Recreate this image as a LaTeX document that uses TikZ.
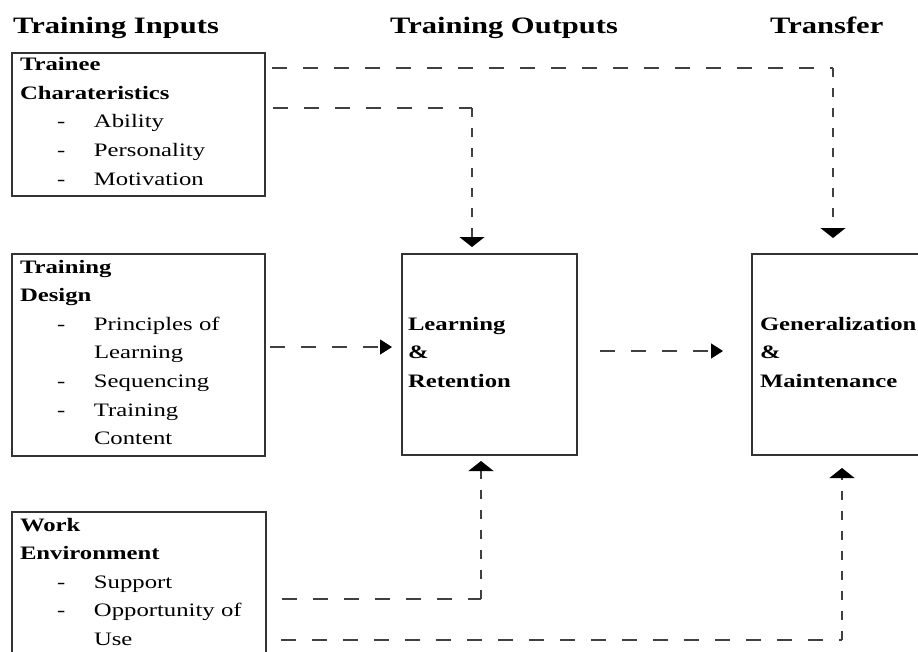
\documentclass[tikz,border=0pt]{standalone}
\usepackage{fontspec}
\setmainfont{Liberation Serif}[FakeStretch=1.3]
\usetikzlibrary{arrows.meta}
\setlength\parindent{0pt}
\newcommand\bodyf{\fontsize{19pt}{28.6pt}\selectfont}
\newcommand\hdrf{\bfseries\fontsize{23.5pt}{28pt}\selectfont}
\newcommand\dashitem[1]{\hspace*{37pt}\makebox[37pt][l]{-}#1}
\newcommand\contitem[1]{\hspace*{74pt}#1}
\begin{document}
\begin{tikzpicture}[x=1pt,y=-1pt,
  box/.style={draw=black!80, line width=1.5pt, outer sep=0pt, anchor=north west,
    inner xsep=8pt, inner ysep=0pt, align=left, font=\bodyf},
  hdr/.style={anchor=base west, inner sep=0pt, font=\hdrf},
  hd/.style={draw=black!75, line width=1.3pt, dash pattern=on 15pt off 16pt},
  vd/.style={draw=black!75, line width=1.3pt, dash pattern=on 9pt off 11pt},
  vtip/.style={-{Triangle[width=25pt,length=10pt,color=black]}},
  htip/.style={-{Triangle[width=15pt,length=12pt,color=black]}}]
\fill[white] (0,0) rectangle (918,651);
\clip (0,0) rectangle (918,651);

% headers
\node[hdr] (h1) at (13,33) {Training Inputs};
\node[hdr] (h2) at (390,33) {Training Outputs};
\node[hdr] (h3) at (770,33) {Transfer};

% boxes
\node[box, text width=237pt] (tc) at (12,53)
  {\rule{0pt}{17.7pt}\textbf{Trainee}\\
   \textbf{Charateristics}\\
   \dashitem{Ability}\\
   \dashitem{Personality}\\
   \dashitem{Motivation}\rule[-10.9pt]{0pt}{10.9pt}};
\node[box, text width=237pt] (td) at (12,254)
  {\rule{0pt}{19pt}\textbf{Training}\\
   \textbf{Design}\\
   \dashitem{Principles of}\\
   \contitem{Learning}\\
   \dashitem{Sequencing}\\
   \dashitem{Training}\\
   \contitem{Content}\rule[-11.4pt]{0pt}{11.4pt}};
\node[box, text width=238pt] (we) at (12,512)
  {\rule{0pt}{19pt}\textbf{Work}\\
   \textbf{Environment}\\
   \dashitem{Support}\\
   \dashitem{Opportunity of}\\
   \contitem{Use}\rule[-10.6pt]{0pt}{10.6pt}};
\node[box, inner xsep=6pt, text width=163pt] (lr) at (402,254)
  {\rule{0pt}{76pt}\textbf{Learning}\\
   \textbf{\&}\\
   \textbf{Retention}\rule[-67.8pt]{0pt}{67.8pt}};
\node[box, text width=184pt] (gm) at (752,254)
  {\rule{0pt}{76pt}\textbf{Generalization}\\
   \textbf{\&}\\
   \textbf{Maintenance}\rule[-67.8pt]{0pt}{67.8pt}};

% connector end points
\coordinate (a1) at ([shift={(7,15)}]tc.north east);
\coordinate (a2) at ([shift={(81,-16)}]gm.north west);
\coordinate (b1) at ([shift={(8,55)}]tc.north east);
\coordinate (b2) at ([shift={(70,-7)}]lr.north west);
\coordinate (c1) at ([shift={(5,93)}]td.north east);
\coordinate (c2) at ([shift={(-10,93)}]lr.north west);
\coordinate (d1) at ([shift={(23,97)}]lr.north east);
\coordinate (d2) at ([shift={(-29,97)}]gm.north west);
\coordinate (e1) at ([shift={(16,87)}]we.north east);
\coordinate (e2) at ([shift={(79,6)}]lr.south west);
\coordinate (f1) at ([shift={(15,128)}]we.north east);
\coordinate (f2) at ([shift={(90,13)}]gm.south west);

% connectors
\draw[hd] (a1) -- (a2 |- a1);
\draw[vd,vtip] (a2 |- a1) -- (a2);
\draw[hd] (b1) -- (b2 |- b1);
\draw[vd,vtip] (b2 |- b1) -- (b2);
\draw[hd,htip] (c1) -- (c2);
\draw[hd,htip] (d1) -- (d2);
\draw[hd] (e1) -- (e2 |- e1);
\draw[vd,vtip] (e2 |- e1) -- (e2);
\draw[hd] (f1) -- (f2 |- f1);
\draw[vd,vtip] (f2 |- f1) -- (f2);
\end{tikzpicture}
\end{document}
